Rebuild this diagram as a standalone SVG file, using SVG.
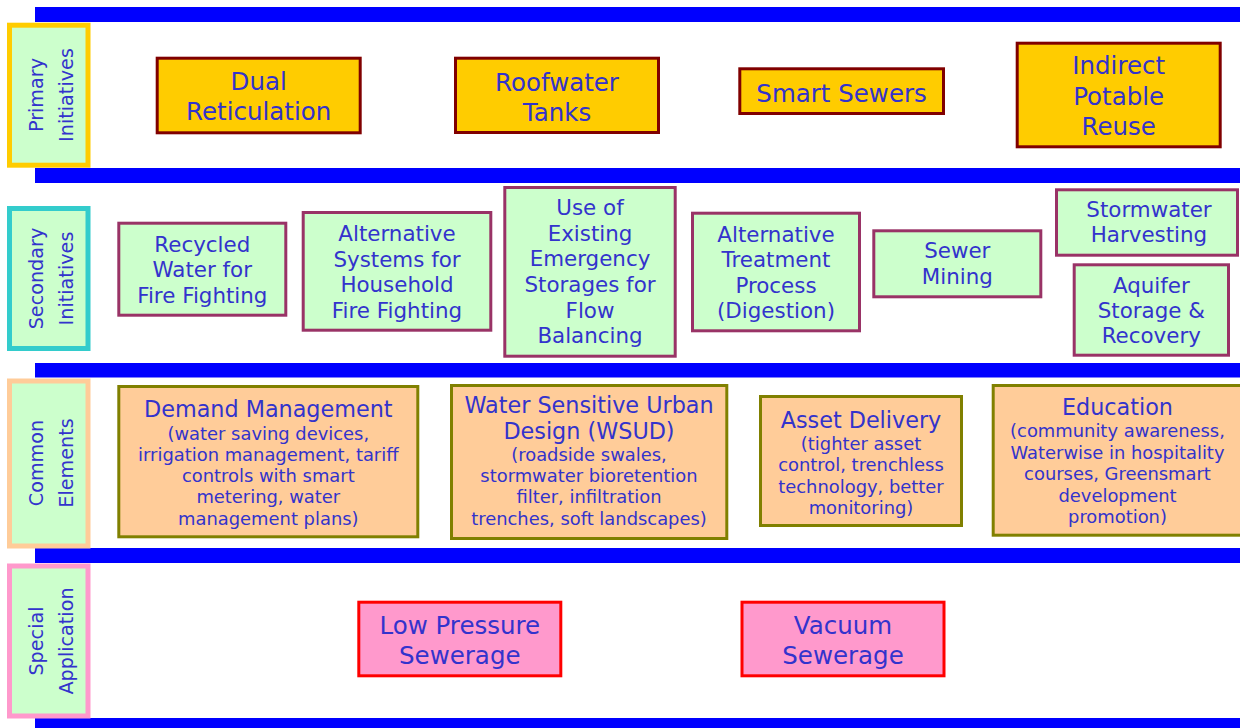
<svg xmlns="http://www.w3.org/2000/svg" width="1240" height="728" viewBox="0 0 1240 728">
<style>
text{font-family:"DejaVu Sans","Verdana",sans-serif;fill:#3333cc;text-anchor:middle}
.bar{fill:#0000ff}
.lab{fill:#ccffcc;stroke-width:5}
.p{fill:#ffcc00;stroke:#800000;stroke-width:3}
.s{fill:#ccffcc;stroke:#993366;stroke-width:3}
.c{fill:#ffcc99;stroke:#808000;stroke-width:3}
.x{fill:#ff99cc;stroke:#ff0000;stroke-width:3}
.tp{font-size:24.5px}
.ts{font-size:21.4px}
.tc{font-size:22.3px}
.tsub{font-size:17.9px}
.tl{font-size:19.2px}
</style>
<rect width="1240" height="728" fill="#ffffff"/>
<g id="bars">
<rect class="bar" x="35" y="7" width="1205" height="15"/>
<rect class="bar" x="35" y="168" width="1205" height="15"/>
<rect class="bar" x="35" y="363" width="1205" height="14.5"/>
<rect class="bar" x="35" y="548" width="1205" height="15"/>
<rect class="bar" x="35" y="718" width="1205" height="10"/>
</g>
<g id="label-primary">
<rect class="lab" x="9.5" y="25.2" width="78.5" height="140" stroke="#ffcc00"/>
<text class="tl" transform="translate(0,95) rotate(-90)"><tspan x="0" y="43">Primary</tspan><tspan x="0" y="72.5">Initiatives</tspan></text>
</g>
<g id="label-secondary">
<rect class="lab" x="9.5" y="208.5" width="78.5" height="140" stroke="#33cccc"/>
<text class="tl" transform="translate(0,278.5) rotate(-90)"><tspan x="0" y="43">Secondary</tspan><tspan x="0" y="72.5">Initiatives</tspan></text>
</g>
<g id="label-common">
<rect class="lab" x="9.5" y="381" width="78.5" height="165" stroke="#ffcc99"/>
<text class="tl" transform="translate(0,463) rotate(-90)"><tspan x="0" y="43">Common</tspan><tspan x="0" y="72.5">Elements</tspan></text>
</g>
<g id="label-special">
<rect class="lab" x="9.5" y="566" width="78.5" height="150" stroke="#ff99cc"/>
<text class="tl" transform="translate(0,641) rotate(-90)"><tspan x="0" y="43">Special</tspan><tspan x="0" y="72.5">Application</tspan></text>
</g>
<g id="dual-reticulation">
<rect class="p" x="157.2" y="58.2" width="203" height="74.6"/>
<text class="tp"><tspan x="258.7" y="90">Dual</tspan><tspan x="258.7" y="120">Reticulation</tspan></text>
</g>
<g id="roofwater-tanks">
<rect class="p" x="455.5" y="58.2" width="203" height="74.3"/>
<text class="tp"><tspan x="557" y="91">Roofwater</tspan><tspan x="557" y="120.7">Tanks</tspan></text>
</g>
<g id="smart-sewers">
<rect class="p" x="739.8" y="68.8" width="203.7" height="44.7"/>
<text class="tp" x="841.6" y="101.7">Smart Sewers</text>
</g>
<g id="indirect-potable-reuse">
<rect class="p" x="1017.2" y="43.2" width="203" height="103.6"/>
<text class="tp"><tspan x="1118.7" y="74.3">Indirect</tspan><tspan x="1118.7" y="105">Potable</tspan><tspan x="1118.7" y="135">Reuse</tspan></text>
</g>
<g id="recycled-water">
<rect class="s" x="118.8" y="223.2" width="167" height="92"/>
<text class="ts"><tspan x="202.3" y="251.7">Recycled</tspan><tspan x="202.3" y="277.3">Water for</tspan><tspan x="202.3" y="302.7">Fire Fighting</tspan></text>
</g>
<g id="alternative-systems">
<rect class="s" x="303.2" y="212.5" width="187.6" height="117.7"/>
<text class="ts"><tspan x="397" y="240.7">Alternative</tspan><tspan x="397" y="266.7">Systems for</tspan><tspan x="397" y="291.7">Household</tspan><tspan x="397" y="318.3">Fire Fighting</tspan></text>
</g>
<g id="emergency-storages">
<rect class="s" x="504.8" y="187.5" width="170.4" height="168.7"/>
<text class="ts"><tspan x="590" y="215">Use of</tspan><tspan x="590" y="240.7">Existing</tspan><tspan x="590" y="266.3">Emergency</tspan><tspan x="590" y="292">Storages for</tspan><tspan x="590" y="317.7">Flow</tspan><tspan x="590" y="343.3">Balancing</tspan></text>
</g>
<g id="alternative-treatment">
<rect class="s" x="692.5" y="213.2" width="167" height="117.6"/>
<text class="ts"><tspan x="776" y="241.5">Alternative</tspan><tspan x="776" y="267">Treatment</tspan><tspan x="776" y="292.7">Process</tspan><tspan x="776" y="318.3">(Digestion)</tspan></text>
</g>
<g id="sewer-mining">
<rect class="s" x="873.8" y="230.8" width="167" height="66"/>
<text class="ts"><tspan x="957.3" y="258.3">Sewer</tspan><tspan x="957.3" y="284.3">Mining</tspan></text>
</g>
<g id="stormwater-harvesting">
<rect class="s" x="1056.5" y="189.8" width="181" height="65.4"/>
<text class="ts"><tspan x="1149" y="217.3">Stormwater</tspan><tspan x="1149" y="242">Harvesting</tspan></text>
</g>
<g id="aquifer-storage">
<rect class="s" x="1074.2" y="264.8" width="154.3" height="90.4"/>
<text class="ts"><tspan x="1151.3" y="293.3">Aquifer</tspan><tspan x="1151.3" y="318.3">Storage &amp;</tspan><tspan x="1151.3" y="343.3">Recovery</tspan></text>
</g>
<g id="demand-management">
<rect class="c" x="118.8" y="386.5" width="299" height="150.3"/>
<text class="tc" x="268.3" y="416.7">Demand Management</text>
<text class="tsub"><tspan x="268.3" y="439.5">(water saving devices,</tspan><tspan x="268.3" y="460.8">irrigation management, tariff</tspan><tspan x="268.3" y="482">controls with  smart</tspan><tspan x="268.3" y="503.3">metering, water</tspan><tspan x="268.3" y="524.7">management plans)</tspan></text>
</g>
<g id="wsud">
<rect class="c" x="451.5" y="385.5" width="275.3" height="153"/>
<text class="tc"><tspan x="589" y="413.3">Water Sensitive Urban</tspan><tspan x="589" y="439">Design (WSUD)</tspan></text>
<text class="tsub"><tspan x="589" y="460.5">(roadside swales,</tspan><tspan x="589" y="482">stormwater bioretention</tspan><tspan x="589" y="503.3">filter, infiltration</tspan><tspan x="589" y="524.7">trenches, soft landscapes)</tspan></text>
</g>
<g id="asset-delivery">
<rect class="c" x="760.5" y="396.5" width="201" height="129"/>
<text class="tc" x="861" y="427.5">Asset Delivery</text>
<text class="tsub"><tspan x="861" y="449.5">(tighter asset</tspan><tspan x="861" y="471">control, trenchless</tspan><tspan x="861" y="492.5">technology, better</tspan><tspan x="861" y="514">monitoring)</tspan></text>
</g>
<g id="education">
<rect class="c" x="993.2" y="385.5" width="250" height="149.7"/>
<text class="tc" x="1117.5" y="415">Education</text>
<text class="tsub"><tspan x="1117.5" y="437">(community awareness,</tspan><tspan x="1117.5" y="458.5">Waterwise in hospitality</tspan><tspan x="1117.5" y="480">courses, Greensmart</tspan><tspan x="1117.5" y="501.5">development</tspan><tspan x="1117.5" y="523">promotion)</tspan></text>
</g>
<g id="low-pressure-sewerage">
<rect class="x" x="358.8" y="602.2" width="202" height="73.6"/>
<text class="tp"><tspan x="459.8" y="634">Low Pressure</tspan><tspan x="459.8" y="664">Sewerage</tspan></text>
</g>
<g id="vacuum-sewerage">
<rect class="x" x="742" y="602.2" width="202" height="73.6"/>
<text class="tp"><tspan x="843" y="634">Vacuum</tspan><tspan x="843" y="664">Sewerage</tspan></text>
</g>
<g id="connectors"></g>
</svg>
